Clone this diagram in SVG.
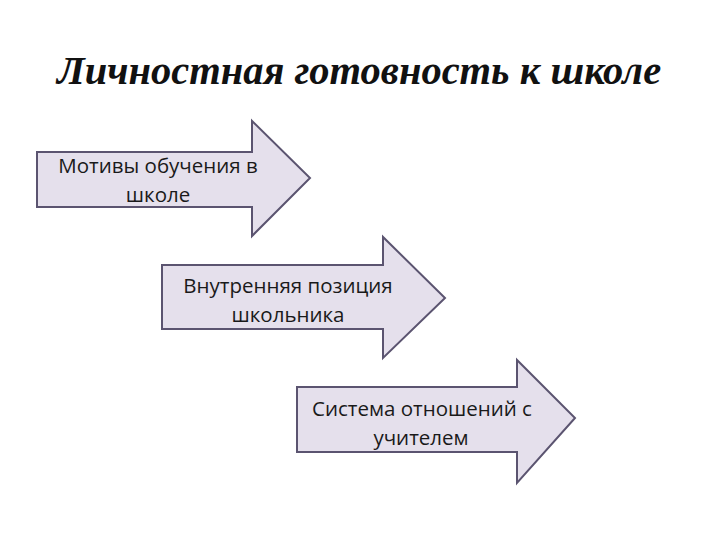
<svg xmlns="http://www.w3.org/2000/svg" width="720" height="540" viewBox="0 0 720 540">
<style>
.arrow{fill:#E5E0EC;stroke:#5B5470;stroke-width:2;stroke-linejoin:miter}
.lbl{font-family:"Open Sans","Liberation Sans",sans-serif;font-size:20.5px;fill:#1a1a1a;text-anchor:middle}
.title{font-family:"Liberation Serif","Times New Roman",serif;font-size:40.5px;font-weight:bold;font-style:italic;fill:#111;text-anchor:middle}
</style>
<rect width="720" height="540" fill="#fff"/>
<text class="title" x="359" y="84">Личностная готовность к школе</text>
<g id="node1">
<polygon class="arrow" points="37,152 252,152 252,121 310,178 252,236 252,207 37,207"/>
<text class="lbl" x="158" y="173">Мотивы обучения в</text>
<text class="lbl" x="158" y="202">школе</text>
</g>
<g id="node2">
<polygon class="arrow" points="162,265 383,265 383,237 445,298 383,358 383,329 162,329"/>
<text class="lbl" x="288" y="293">Внутренняя позиция</text>
<text class="lbl" x="288" y="322">школьника</text>
</g>
<g id="node3">
<polygon class="arrow" points="297,387 517,387 517,360 575,418 517,483 517,452 297,452"/>
<text class="lbl" x="422" y="416">Система отношений с</text>
<text class="lbl" x="421" y="445">учителем</text>
</g>
<g id="connectors"></g>
</svg>
